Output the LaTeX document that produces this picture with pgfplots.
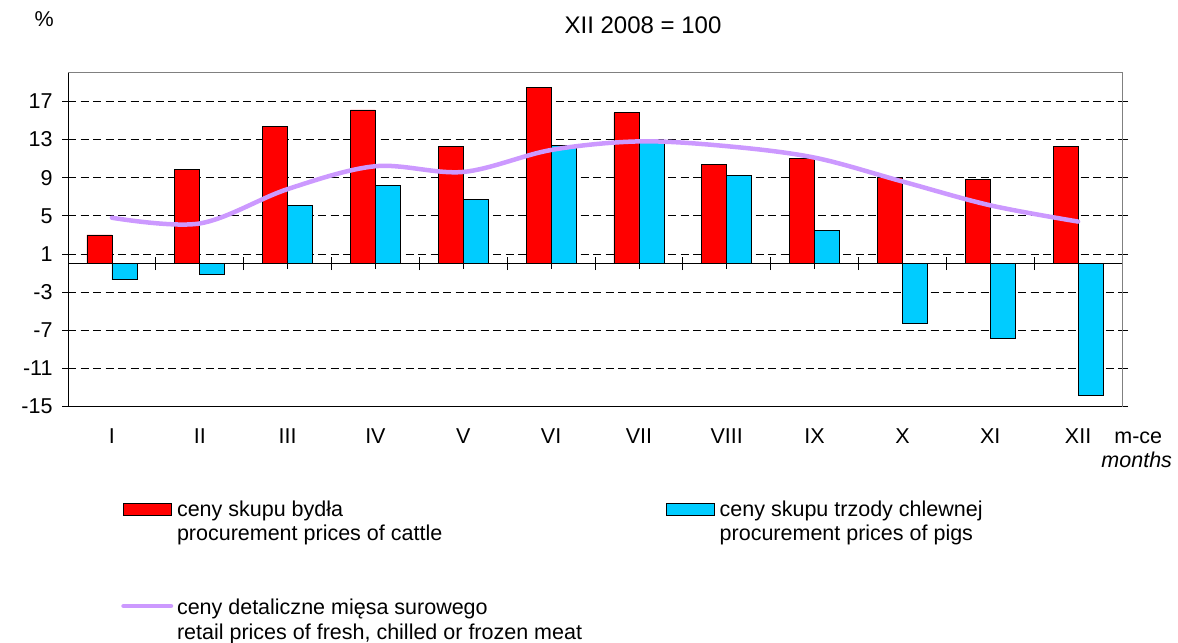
\documentclass[border=0pt]{standalone}
\usepackage{fontspec}
\setmainfont{Liberation Sans}
\usepackage{pgfplots}
\pgfplotsset{compat=1.18}
\definecolor{cattle}{HTML}{FF0000}
\definecolor{pigs}{HTML}{00CCFF}
\definecolor{meat}{HTML}{CC99FF}
\definecolor{framegray}{HTML}{808080}
\newcommand{\fs}{\fontsize{21.5bp}{24.3bp}\selectfont}
\begin{document}
\begin{tikzpicture}[x=1bp,y=1bp]
\useasboundingbox (0,0) rectangle (1178,643);
\begin{axis}[
  at={(68bp,236.3bp)}, anchor=south west,
  scale only axis, width=1054bp, height=334bp,
  xmin=-0.5, xmax=11.5, ymin=-15, ymax=20,
  xtick={0,...,11},
  xticklabels={I,II,III,IV,V,VI,VII,VIII,IX,X,XI,XII},
  x tick style={draw=none},
  ytick={-15,-11,-7,-3,1,5,9,13,17},
  yticklabels={-15,-11,-7,-3,1,5,9,13,17},
  tick align=outside, major tick length=6bp,
  y tick style={black, line width=0.8bp},
  ymajorgrids,
  grid style={black, line width=0.8bp, dash pattern=on 8bp off 4.5bp},
  axis line style={black, line width=1bp},
  tick label style={font=\fs},
  x tick label style={anchor=north, inner sep=0pt, yshift=-15.6bp},
  y tick label style={anchor=east, inner sep=0pt, xshift=-9.3bp},
  clip=false,
]
% small marks below the zero line at category centres
\pgfplotsinvokeforeach{0,1,...,11}{
  \draw[black, line width=0.8bp] (axis cs:#1,0) -- ([yshift=-5bp]axis cs:#1,0);
}
\addplot[ybar, bar width=25bp, bar shift=-12.5bp, fill=cattle, draw=black, line width=0.8bp]
  coordinates {(0,3.0) (1,9.9) (2,14.4) (3,16.1) (4,12.3) (5,18.5) (6,15.8) (7,10.4) (8,11.0) (9,9.0) (10,8.8) (11,12.3)};
\addplot[ybar, bar width=25bp, bar shift=12.5bp, fill=pigs, draw=black, line width=0.8bp]
  coordinates {(0,-1.7) (1,-1.1) (2,6.1) (3,8.2) (4,6.7) (5,12.4) (6,12.8) (7,9.2) (8,3.5) (9,-6.3) (10,-7.8) (11,-13.8)};
\draw[black, line width=1bp] (axis cs:-0.5,0) -- (axis cs:11.5,0);
\pgfplotsinvokeforeach{-0.5,0.5,...,11.5}{
  \draw[black, line width=0.8bp] ([yshift=-6.5bp]axis cs:#1,0) -- ([yshift=6.5bp]axis cs:#1,0);
}
\addplot[meat, line width=4.5bp, smooth, tension=0.55, no markers, line cap=round]
  coordinates {(0,4.8) (1,4.2) (2,7.8) (3,10.2) (4,9.6) (5,11.9) (6,12.8) (7,12.3) (8,11.1) (9,8.6) (10,6.1) (11,4.4)};
\draw[framegray, line width=1bp] (rel axis cs:0,1) -- (rel axis cs:1,1) -- (rel axis cs:1,0);
\end{axis}
% titles
\node[anchor=base, inner sep=0pt, font=\fs] at (44.3,616.3) {\%};
\node[anchor=base, inner sep=0pt, font=\fontsize{24bp}{28bp}\selectfont] at (643,609.7) {XII 2008 = 100};
\node[anchor=base, inner sep=0pt, font=\fs] at (1138.3,199.5) {m-ce};
\node[anchor=base, inner sep=0pt, font=\fs\itshape] at (1136.7,175) {months};
% legend
\filldraw[fill=cattle, draw=black, line width=0.8bp] (123.3,127.3) rectangle (171,139.7);
\node[anchor=base west, inner sep=0pt, font=\fs] at (176.8,126.3) {ceny skupu bydła};
\node[anchor=base west, inner sep=0pt, font=\fs] at (176.8,102) {procurement prices of cattle};
\filldraw[fill=pigs, draw=black, line width=0.8bp] (666.7,127.3) rectangle (714.3,139.7);
\node[anchor=base west, inner sep=0pt, font=\fs] at (719.5,126.3) {ceny skupu trzody chlewnej};
\node[anchor=base west, inner sep=0pt, font=\fs] at (719.5,102) {procurement prices of pigs};
\draw[meat, line width=4.5bp, line cap=round] (123.5,37) -- (171,37);
\node[anchor=base west, inner sep=0pt, font=\fs] at (176.8,28) {ceny detaliczne mięsa surowego};
\node[anchor=base west, inner sep=0pt, font=\fs] at (176.8,3.7) {retail prices of fresh, chilled or frozen meat};
\end{tikzpicture}
\end{document}
